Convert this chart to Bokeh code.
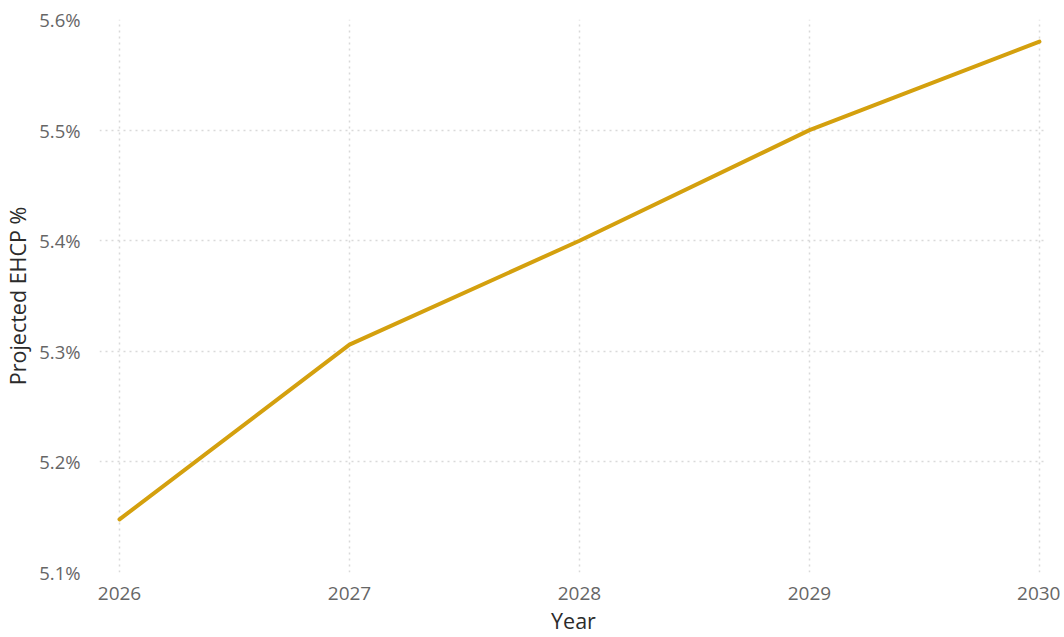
from bokeh.plotting import figure
from bokeh.models import Range1d, FixedTicker, CustomJSTickFormatter
from bokeh.embed import file_html
from bokeh.resources import INLINE

years = [2026, 2027, 2028, 2029, 2030]
ehcp_pct = [5.148, 5.306, 5.400, 5.500, 5.580]
y_ticks = [5.1, 5.2, 5.3, 5.4, 5.5, 5.6]

p = figure(width=1060, height=637, output_backend="svg", toolbar_location=None,
           x_range=Range1d(2025.913, 2030.035), y_range=Range1d(5.1, 5.6),
           min_border_left=98, min_border_right=13, min_border_top=19, min_border_bottom=60)
p.outline_line_color = None

p.line(years, ehcp_pct, line_color="#D4A00E", line_width=4, line_cap="round", line_join="round")

p.xaxis.ticker = FixedTicker(ticks=years)
p.yaxis.ticker = FixedTicker(ticks=y_ticks)
p.yaxis.formatter = CustomJSTickFormatter(code="return tick.toFixed(1) + '%';")

for ax in (p.xaxis[0], p.yaxis[0]):
    ax.axis_line_color = None
    ax.major_tick_line_color = None
    ax.minor_tick_line_color = None
    ax.major_label_text_font = "Open Sans"
    ax.major_label_text_color = "#666666"
    ax.axis_label_text_font = "Open Sans"
    ax.axis_label_text_font_size = "21.5px"
    ax.axis_label_text_font_style = "normal"
    ax.axis_label_text_color = "#2b2b2b"

p.xaxis.major_label_text_font_size = "19px"
p.yaxis.major_label_text_font_size = "18.5px"
p.xaxis.axis_label = "Year"
p.yaxis.axis_label = "Projected EHCP %"
p.xaxis.major_label_standoff = 8
p.yaxis.major_label_standoff = 13
p.xaxis.axis_label_standoff = 3
p.yaxis.axis_label_standoff = 4

for g in (p.xgrid[0], p.ygrid[0]):
    g.grid_line_color = "#d9d9d9"
    g.grid_line_dash = "2 4"
    g.grid_line_width = 1.5

open("out.html", "w").write(file_html(p, INLINE))
